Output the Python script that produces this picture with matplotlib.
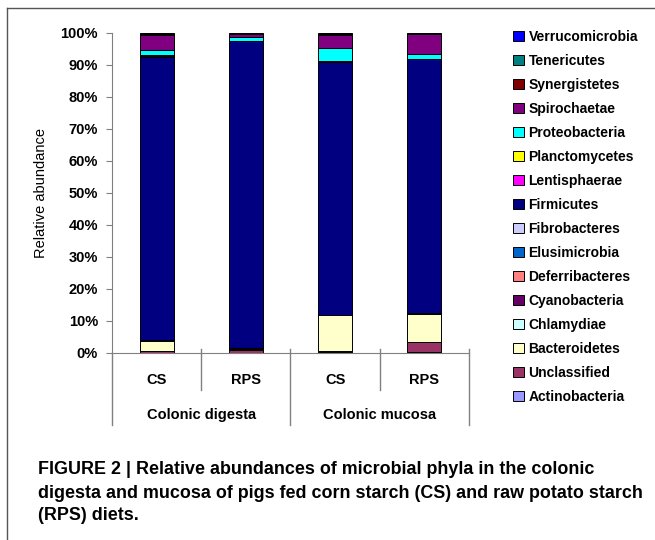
import matplotlib
matplotlib.use('Agg')
import matplotlib.pyplot as plt
from matplotlib.patches import Patch
from matplotlib.lines import Line2D
import matplotlib.transforms as mtransforms

plt.rcParams['font.family'] = ['Liberation Sans', 'DejaVu Sans']

# samples (x axis), groups
samples = ['CS', 'RPS', 'CS', 'RPS']
groups = ['Colonic digesta', 'Colonic mucosa']

# phyla in stacking order (bottom -> top), % relative abundance
phyla = ['Actinobacteria', 'Unclassified', 'Bacteroidetes', 'Chlamydiae', 'Cyanobacteria',
         'Deferribacteres', 'Elusimicrobia', 'Fibrobacteres', 'Firmicutes', 'Lentisphaerae',
         'Planctomycetes', 'Proteobacteria', 'Spirochaetae', 'Synergistetes', 'Tenericutes',
         'Verrucomicrobia']
colors = ['#9999FF', '#993366', '#FFFFCC', '#CCFFFF', '#660066',
          '#FF8080', '#0066CC', '#CCCCFF', '#000080', '#FF00FF',
          '#FFFF00', '#00FFFF', '#800080', '#800000', '#008080',
          '#0000FF']

actinobacteria = [0.1, 0.1, 0.2, 0.3]
unclassified = [0.5, 0.8, 0.5, 3.0]
bacteroidetes = [3.2, 0.4, 11.2, 9.0]
chlamydiae = [0.0, 0.0, 0.0, 0.0]
cyanobacteria = [0.1, 0.2, 0.1, 0.1]
deferribacteres = [0.0, 0.0, 0.0, 0.0]
elusimicrobia = [0.0, 0.0, 0.0, 0.0]
fibrobacteres = [0.1, 0.0, 0.0, 0.0]
firmicutes = [88.5, 95.9, 78.8, 79.4]
lentisphaerae = [0.4, 0.1, 0.3, 0.1]
planctomycetes = [0.1, 0.1, 0.2, 0.1]
proteobacteria = [1.6, 1.0, 3.9, 1.5]
spirochaetae = [4.8, 1.0, 4.2, 6.1]
synergistetes = [0.2, 0.1, 0.2, 0.1]
tenericutes = [0.2, 0.1, 0.2, 0.1]
verrucomicrobia = [0.2, 0.2, 0.2, 0.2]

values = [actinobacteria, unclassified, bacteroidetes, chlamydiae, cyanobacteria,
          deferribacteres, elusimicrobia, fibrobacteres, firmicutes, lentisphaerae,
          planctomycetes, proteobacteria, spirochaetae, synergistetes, tenericutes,
          verrucomicrobia]

fig = plt.figure(figsize=(6.55, 5.40), dpi=100)
ax = fig.add_axes([0.171, 0.3463, 0.545, 0.5926])

x = list(range(len(samples)))
bottom = [0, 0, 0, 0]
for name, col, vals in zip(phyla, colors, values):
    ax.bar(x, vals, 0.38, bottom=bottom, color=col, edgecolor='black', linewidth=0.7, label=name)
    bottom = [b + v for b, v in zip(bottom, vals)]

ax.set_xlim(-0.5, 3.5)
ax.set_ylim(0, 100)
ax.set_yticks(range(0, 101, 10))
ax.set_yticklabels([f'{t}%' for t in range(0, 101, 10)], fontsize=10.5, fontweight='bold')
ax.set_ylabel('Relative abundance', fontsize=10.5, labelpad=9)
ax.set_xticks([])
for s in ['top', 'right']:
    ax.spines[s].set_visible(False)
for s in ['left', 'bottom']:
    ax.spines[s].set_color('#808080')
ax.tick_params(axis='y', length=4, color='#808080', pad=6)

# two-level category axis
trans = mtransforms.blended_transform_factory(ax.transData, ax.transAxes)
for xs, y0, y1 in [(-0.5, 0.0, -0.225), (0.5, 0.0125, -0.116), (1.5, 0.0125, -0.225),
                   (2.5, 0.0125, -0.116), (3.5, 0.0125, -0.225)]:
    ax.add_line(Line2D([xs, xs], [y0, y1], transform=trans, color='#808080', lw=1, clip_on=False))
for xi, lab in zip(x, samples):
    ax.text(xi, -0.084, lab, transform=trans, ha='center', va='center', fontsize=10.5, fontweight='bold')
for gi, g in enumerate(groups):
    ax.text(0.5 + 2 * gi, -0.194, g, transform=trans, ha='center', va='center', fontsize=10.5, fontweight='bold')

# legend, top entry first
handles = [Patch(facecolor=c, edgecolor='black', linewidth=0.7) for c in colors][::-1]
fig.legend(handles, phyla[::-1], loc='upper left', bbox_to_anchor=(0.775, 0.955), frameon=False,
           handlelength=0.75, handleheight=0.75, handletextpad=0.35,
           labelspacing=0.72, borderaxespad=0, prop={'weight': 'bold', 'size': 10})

# frame
fig.add_artist(Line2D([7 / 655, 7 / 655], [0, 1 - 8 / 540], color='#555555', lw=1))
fig.add_artist(Line2D([7 / 655, 1], [1 - 8 / 540, 1 - 8 / 540], color='#555555', lw=1))

caption = ['FIGURE 2 | Relative abundances of microbial phyla in the colonic',
           'digesta and mucosa of pigs fed corn starch (CS) and raw potato starch',
           '(RPS) diets.']
for i, line in enumerate(caption):
    fig.text(38 / 655, 1 - (470 + 23 * i) / 540, line, ha='left', va='center',
             fontsize=12.9, fontweight='bold')

fig.savefig('out.png', dpi=100)
